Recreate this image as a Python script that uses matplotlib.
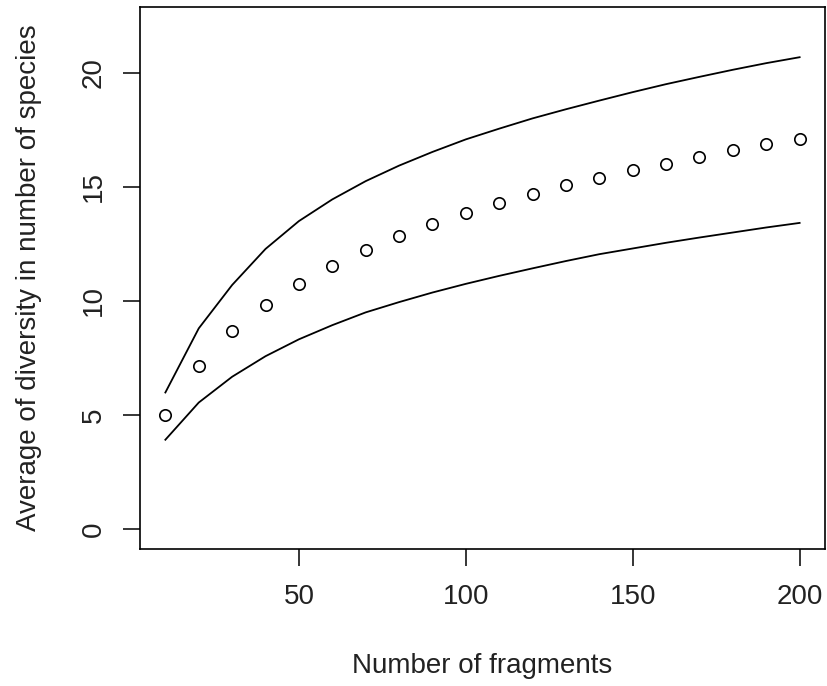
import matplotlib
matplotlib.use("Agg")
import matplotlib.pyplot as plt

# ==========================================
# DATA
# ==========================================
fragments = [10, 20, 30, 40, 50, 60, 70, 80, 90, 100,
             110, 120, 130, 140, 150, 160, 170, 180, 190, 200]

mean_div = [5.00, 7.16, 8.69, 9.84, 10.76, 11.52, 12.22, 12.84, 13.37, 13.85,
            14.30, 14.70, 15.08, 15.38, 15.76, 16.01, 16.32, 16.61, 16.86, 17.08]

upper_div = [5.99, 8.80, 10.70, 12.28, 13.50, 14.45, 15.25, 15.93, 16.53, 17.08,
             17.55, 18.00, 18.40, 18.78, 19.15, 19.50, 19.82, 20.13, 20.42, 20.68]

lower_div = [3.92, 5.55, 6.68, 7.58, 8.32, 8.94, 9.50, 9.95, 10.37, 10.75,
             11.10, 11.43, 11.75, 12.05, 12.30, 12.55, 12.78, 13.00, 13.22, 13.42]

x_ticks = [50, 100, 150, 200]
y_ticks = [0, 5, 10, 15, 20]

# ==========================================
# PLOT
# ==========================================
plt.rcParams["font.family"] = ["Liberation Sans", "DejaVu Sans"]
TEXT_COL = "#222222"

fig = plt.figure(figsize=(8.27, 6.86), dpi=100)
ax = fig.add_axes([140 / 827, 1 - 549.3 / 686, 685 / 827, 542.3 / 686])

ax.plot(fragments, mean_div, linestyle="none", marker="o", markersize=8.2,
        markerfacecolor="none", markeredgecolor="black", markeredgewidth=1.2)
ax.plot(fragments, upper_div, color="black", linewidth=1.3)
ax.plot(fragments, lower_div, color="black", linewidth=1.3)

# R-style axis ranges (4% padding)
xr = 200 - 10
ax.set_xlim(10 - 0.04 * xr, 200 + 0.04 * xr)
ax.set_ylim(0 - 0.04 * 22, 22 + 0.04 * 22)

ax.set_xticks(x_ticks)
ax.set_yticks(y_ticks)
ax.tick_params(axis="both", direction="out", length=12.2, width=1.1,
               colors="black", labelcolor=TEXT_COL, labelsize=20)
ax.tick_params(axis="x", pad=13)
ax.tick_params(axis="y", pad=12)

for lab in ax.get_yticklabels():
    lab.set_rotation(90)
    lab.set_va("center")

for sp in ax.spines.values():
    sp.set_linewidth(1.2)
    sp.set_color("black")

ax.set_xlabel("Number of fragments", fontsize=20, color=TEXT_COL)
ax.xaxis.set_label_coords(0.5, -0.191)
ax.set_ylabel("Average of diversity in number of species", fontsize=20,
              color=TEXT_COL)
ax.yaxis.set_label_coords(-0.143, 0.5)

fig.savefig("out.png", dpi=100)
